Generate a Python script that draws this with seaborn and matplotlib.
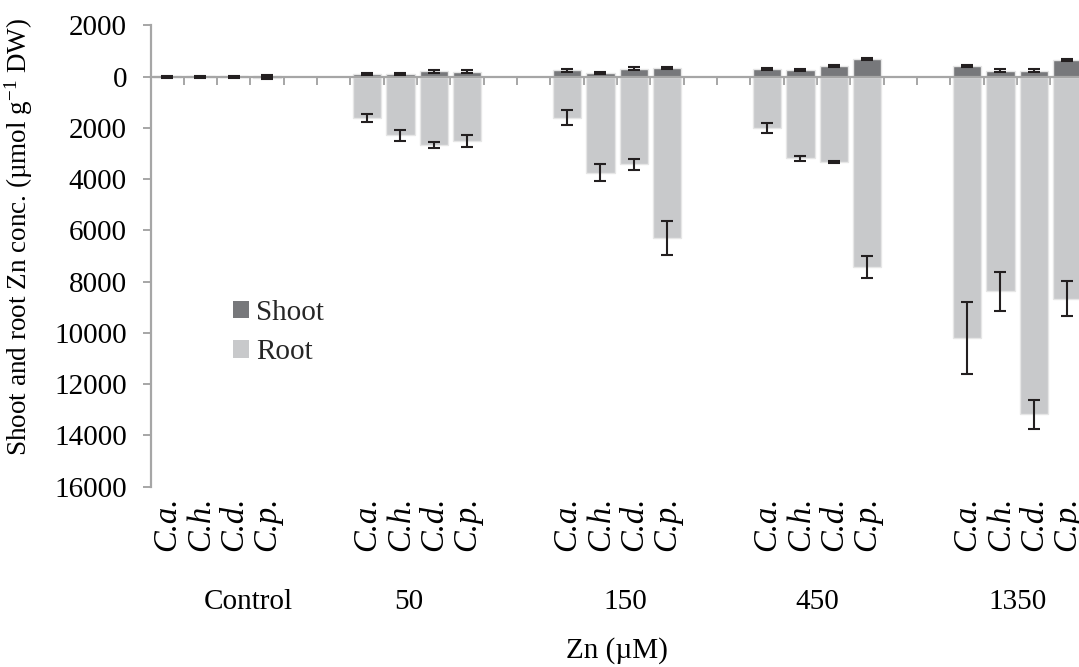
import numpy as np
import pandas as pd
import matplotlib
matplotlib.use("Agg")
import matplotlib.pyplot as plt
import seaborn as sns
from matplotlib.patches import Patch
from matplotlib.ticker import FuncFormatter

# ---------------- data ----------------
species = ["C.a.", "C.h.", "C.d.", "C.p."]
zn_levels = ["Control", "50", "150", "450", "1350"]

shoot = [
    [10, 10, 10, 15],
    [110, 100, 210, 200],
    [250, 150, 310, 330],
    [290, 250, 420, 690],
    [430, 240, 240, 640],
]
shoot_err = [
    [30, 30, 30, 50],
    [50, 50, 50, 50],
    [50, 40, 50, 50],
    [40, 40, 50, 40],
    [40, 40, 40, 40],
]
root = [
    [30, 30, 30, 40],
    [1600, 2290, 2650, 2520],
    [1600, 3740, 3420, 6300],
    [2000, 3190, 3320, 7430],
    [10190, 8380, 13180, 8660],
]
root_err = [
    [30, 30, 30, 50],
    [150, 220, 115, 225],
    [280, 350, 210, 675],
    [210, 110, 40, 430],
    [1400, 750, 560, 675],
]
y_ticks = [2000, 0, -2000, -4000, -6000, -8000, -10000, -12000, -14000, -16000]

# ---------------- style ----------------
sns.set_theme(style="white")
plt.rcParams["font.family"] = ["Liberation Serif", "DejaVu Serif"]
plt.rcParams["mathtext.fontset"] = "custom"
plt.rcParams["mathtext.rm"] = "Liberation Serif"
plt.rcParams["mathtext.it"] = "Liberation Serif:italic"

FS = 21
shoot_c = "#77787b"
root_c = "#c8c9cb"
edge_c = "#e6e6e6"
axis_c = "#a6a6a6"
err_c = "#231f20"

# ---------------- build table ----------------
rows = []
order = []
for gi, level in enumerate(zn_levels):
    for si, sp in enumerate(species):
        slot = f"{level}|{sp}"
        order.append(slot)
        rows.append(dict(slot=slot, species=sp, level=level,
                         shoot=shoot[gi][si], shoot_err=shoot_err[gi][si],
                         root_neg=-root[gi][si], root_err=root_err[gi][si]))
    if gi < len(zn_levels) - 1:
        order.append(f"gap{gi}a")
        order.append(f"gap{gi}b")
df = pd.DataFrame(rows)
pos = np.array([order.index(s) for s in df["slot"]])

# ---------------- figure ----------------
fig = plt.figure(figsize=(10.79, 6.67), dpi=100)
ax = fig.add_axes([150.5 / 1079, (667 - 486.7) / 667, 933.3 / 1079, 461.3 / 667])

sns.barplot(data=df, x="slot", y="root_neg", order=order, color=root_c,
            saturation=1, width=0.85, edgecolor=edge_c, linewidth=1.0,
            errorbar=None, ax=ax)
sns.barplot(data=df, x="slot", y="shoot", order=order, color=shoot_c,
            saturation=1, width=0.85, edgecolor=edge_c, linewidth=1.0,
            errorbar=None, ax=ax)

ax.errorbar(pos, df["shoot"], yerr=df["shoot_err"], fmt="none", ecolor=err_c,
            elinewidth=1.5, capsize=4.3, capthick=1.5, zorder=3)
ax.errorbar(pos, df["root_neg"], yerr=df["root_err"], fmt="none", ecolor=err_c,
            elinewidth=1.5, capsize=4.3, capthick=1.5, zorder=3)

ax.set_xlim(-0.5, len(order) - 0.5)
ax.set_ylim(-16000, 2000)

# axes / spines
for s in ["top", "right"]:
    ax.spines[s].set_visible(False)
ax.spines["bottom"].set_position(("data", 0))
ax.spines["bottom"].set_color(axis_c)
ax.spines["bottom"].set_linewidth(1.6)
ax.spines["left"].set_color(axis_c)
ax.spines["left"].set_linewidth(1.6)

ax.set_xticks(np.arange(0.5, len(order), 1.0))
ax.tick_params(axis="x", direction="out", length=6, width=1.4, color=axis_c,
               labelbottom=False, bottom=True)
ax.set_yticks(y_ticks)
ax.yaxis.set_major_formatter(FuncFormatter(lambda v, p: f"{abs(int(v))}"))
ax.tick_params(axis="y", direction="out", length=6, width=1.4, color=axis_c,
               labelsize=FS, pad=11, left=True)
for t in ax.get_yticklabels():
    t.set_color("black")

# species labels
xt = ax.get_xaxis_transform()
for p, sp in zip(pos, df["species"]):
    ax.text(p, -0.022, sp, transform=xt, rotation=90, ha="center", va="top",
            style="italic", fontsize=23.5, color="black")

# group labels
group_offsets = [0.94, -0.26, 0.24, 0.0, 0.0]
for gi, level in enumerate(zn_levels):
    cx = gi * 6 + 1.5 + group_offsets[gi]
    ax.text(cx, -0.25, level, transform=xt, ha="center", va="center",
            fontsize=FS, color="black")

ax.set_xlabel("Zn (µM)", fontsize=FS, color="black")
ax.xaxis.set_label_coords(0.5, -0.326)
ax.set_ylabel("Shoot and root Zn conc. (µmol g$^{\\mathrm{-1}}$ DW)",
              fontsize=19.5, color="black")
ax.yaxis.set_label_coords(-0.1238, 0.541)

handles = [Patch(facecolor=shoot_c, edgecolor="none", label="Shoot"),
           Patch(facecolor=root_c, edgecolor="none", label="Root")]
fig.legend(handles=handles, loc="upper left", bbox_to_anchor=(233 / 1079, 1 - 300 / 667),
           frameon=False, fontsize=FS, handlelength=0.55, handleheight=0.55,
           handletextpad=0.25, labelspacing=0.45, borderpad=0, borderaxespad=0)

fig.savefig("out.png", dpi=100)
